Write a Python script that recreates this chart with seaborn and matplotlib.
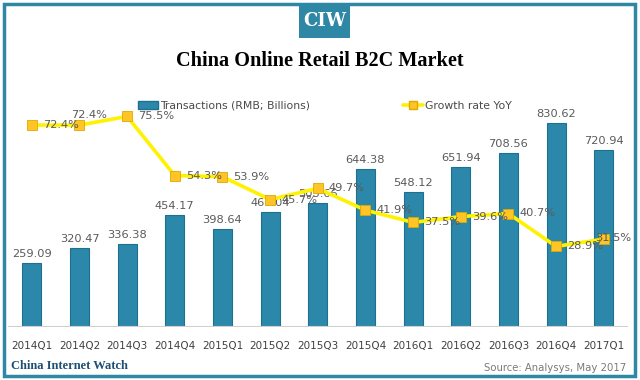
import numpy as np
import pandas as pd
import matplotlib
matplotlib.use('Agg')
import matplotlib.pyplot as plt
import seaborn as sns
from matplotlib.patches import Rectangle
from matplotlib.lines import Line2D

sns.set_style('white')
plt.rcParams['font.family'] = ['DejaVu Sans']

# data
quarters = ['2014Q1', '2014Q2', '2014Q3', '2014Q4', '2015Q1', '2015Q2', '2015Q3',
            '2015Q4', '2016Q1', '2016Q2', '2016Q3', '2016Q4', '2017Q1']
transactions = [259.09, 320.47, 336.38, 454.17, 398.64, 467.04, 503.66,
                644.38, 548.12, 651.94, 708.56, 830.62, 720.94]
growth = [72.4, 72.4, 75.5, 54.3, 53.9, 45.7, 49.7,
          41.9, 37.5, 39.6, 40.7, 28.9, 31.5]

df = pd.DataFrame({'Quarter': quarters, 'Transactions': transactions, 'Growth': growth})
df['pos'] = np.arange(len(df))

bar_color = '#2b88aa'
line_color = '#fff200'
marker_color = '#ffc425'
text_gray = '#5a5a5a'
teal = '#2f87a6'

fig = plt.figure(figsize=(6.4, 3.8), dpi=100)
ax = fig.add_axes([0.0125, 1 - 327 / 380, 0.968, 227 / 380])

sns.barplot(data=df, x='Quarter', y='Transactions', color=bar_color, width=0.4,
            edgecolor='#1f6f8f', linewidth=0.8, saturation=1, ax=ax)
ax.set_ylim(0, 924)
ax.set_xlim(-0.5, len(df) - 0.5)
for i, v in enumerate(df['Transactions']):
    ax.annotate(f'{v:.2f}', (i, v), xytext=(0, 3), textcoords='offset points',
                ha='center', va='bottom', fontsize=8.2, color=text_gray)

ax2 = ax.twinx()
sns.lineplot(data=df, x='pos', y='Growth', color=line_color, linewidth=2.6,
             marker='s', markersize=7.5, markerfacecolor=marker_color,
             markeredgecolor='#e0a800', markeredgewidth=0.6, ax=ax2)
ax2.set_ylim(0, 81.4)
last = len(df) - 1
for i, v in enumerate(df['Growth']):
    if i == 1:
        ax2.annotate(f'{v:.1f}%', (i, v), xytext=(7, 4), textcoords='offset points',
                     ha='center', va='bottom', fontsize=8.2, color=text_gray)
    elif i == last:
        ax2.annotate(f'{v:.1f}%', (i, v), xytext=(-6, 1), textcoords='offset points',
                     ha='left', va='center', fontsize=8.2, color=text_gray)
    else:
        ax2.annotate(f'{v:.1f}%', (i, v), xytext=(8, 0), textcoords='offset points',
                     ha='left', va='center', fontsize=8.2, color=text_gray)

for a in (ax, ax2):
    a.set_ylabel('')
    a.set_xlabel('')
    a.set_yticks([])
    for s in ['top', 'left', 'right', 'bottom']:
        a.spines[s].set_visible(False)
ax.axhline(0, color='#d0d0d0', linewidth=1.5)
ax.tick_params(axis='x', length=0, pad=10, labelsize=7.5, labelcolor='#404040')

# frame and header
fig.add_artist(Rectangle((4 / 640, 4 / 380), 631 / 640, 372 / 380, transform=fig.transFigure,
                         fill=False, edgecolor=teal, linewidth=2.5))
fig.add_artist(Rectangle((299 / 640, 1 - 38 / 380), 51 / 640, 34 / 380,
                         transform=fig.transFigure, facecolor=teal, edgecolor='none'))
fig.text(324.5 / 640, 1 - 21 / 380, 'CIW', ha='center', va='center', color='white',
         fontsize=13, fontweight='bold', family='DejaVu Serif')
fig.text(0.5, 1 - 61 / 380, 'China Online Retail B2C Market', ha='center', va='center',
         fontsize=14.6, fontweight='bold', family='Liberation Serif', color='black')

handles = [Rectangle((0, 0), 1, 1, facecolor=bar_color, edgecolor='#1f6f8f'),
           Line2D([0], [0], color=line_color, linewidth=2.6, marker='s', markersize=6,
                  markerfacecolor=marker_color, markeredgecolor='#e0a800')]
fig.legend(handles, ['Transactions (RMB; Billions)', 'Growth rate YoY'],
           loc='center', bbox_to_anchor=(0.5 + 5 / 640, 1 - 106 / 380), ncol=2, frameon=False,
           fontsize=7.8, columnspacing=8.6, handlelength=1.8, handletextpad=0.2,
           labelcolor='#4a4a4a')

fig.text(11 / 640, 1 - 366 / 380, 'China Internet Watch', ha='left', va='center',
         fontsize=9, fontweight='bold', family='Liberation Serif', color='#1d4f73')
fig.text(626 / 640, 1 - 368 / 380, 'Source: Analysys, May 2017', ha='right', va='center',
         fontsize=7.3, color='#7a7a7a')

fig.savefig('out.png', dpi=100)
